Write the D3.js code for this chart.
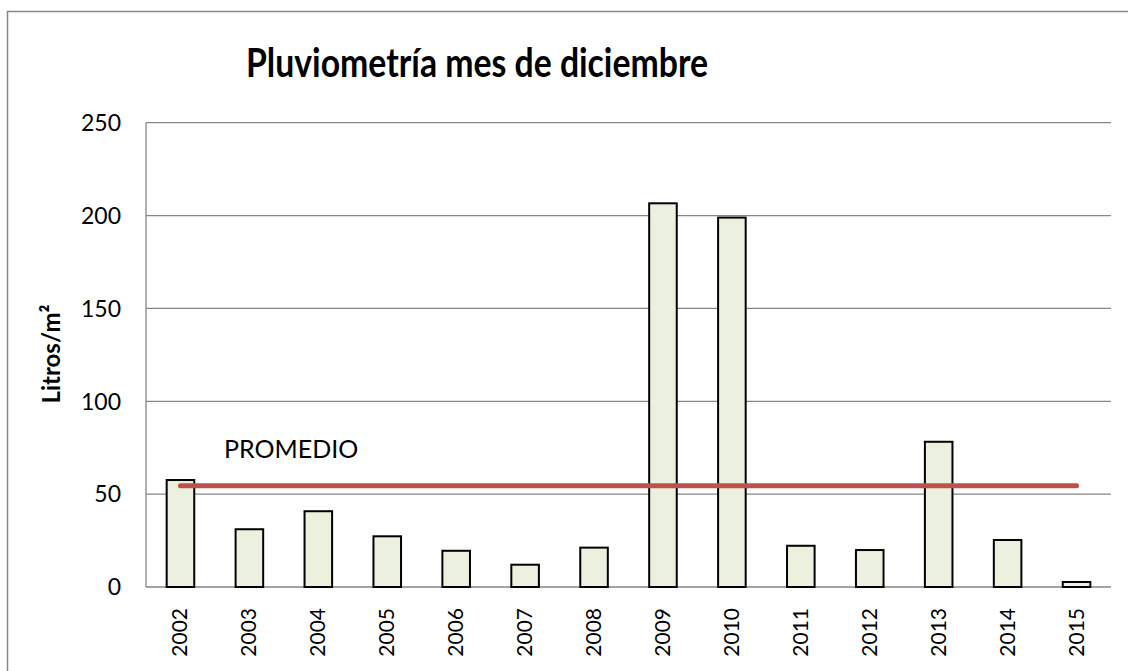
<!DOCTYPE html>
<html>
<head>
<meta charset="utf-8">
<script src="https://cdn.jsdelivr.net/npm/d3@7"></script>
<style>
  body { margin: 0; background: #fff; }
  svg { display: block; font-family: Lato, "Open Sans", sans-serif; }
</style>
</head>
<body>
<script>
var years = ["2002", "2003", "2004", "2005", "2006", "2007", "2008",
             "2009", "2010", "2011", "2012", "2013", "2014", "2015"];
var litros = [57.6, 31.1, 40.8, 27.3, 19.5, 12.0, 21.2,
              206.6, 198.9, 22.2, 19.9, 78.2, 25.3, 2.7];
var promedio = [54.5];
var yTicks = [0, 50, 100, 150, 200, 250];

var width = 1128,
    height = 671;

var svg = d3.select("body").append("svg")
    .attr("width", width)
    .attr("height", height);

// chart frame
svg.append("rect")
    .attr("x", 7.5).attr("y", 11.5)
    .attr("width", 1140).attr("height", 700)
    .attr("fill", "#fff")
    .attr("stroke", "#878787")
    .attr("stroke-width", 1.5);

var plotLeft = 146, plotRight = 1111, plotTop = 122.7, plotBottom = 587;

var x = d3.scaleBand()
    .domain(years)
    .range([plotLeft, plotRight])
    .paddingInner(0.6)
    .paddingOuter(0.3);

var y = d3.scaleLinear()
    .domain([0, 250])
    .range([plotBottom, plotTop]);

// gridlines
svg.append("g")
    .selectAll("line")
    .data(yTicks)
    .enter().append("line")
    .attr("x1", plotLeft).attr("x2", plotRight)
    .attr("y1", function (d) { return y(d); })
    .attr("y2", function (d) { return y(d); })
    .attr("stroke", "#868686")
    .attr("stroke-width", 1.3);

// left axis line
svg.append("line")
    .attr("x1", plotLeft).attr("x2", plotLeft)
    .attr("y1", plotTop).attr("y2", plotBottom)
    .attr("stroke", "#868686")
    .attr("stroke-width", 1.3);

// y tick labels
svg.append("g")
    .selectAll("text")
    .data(yTicks)
    .enter().append("text")
    .attr("x", 121)
    .attr("y", function (d) { return y(d); })
    .attr("dy", "0.36em")
    .attr("text-anchor", "end")
    .attr("font-size", 23)
    .attr("fill", "#000")
    .text(function (d) { return d; });

// bars
svg.append("g")
    .selectAll("rect")
    .data(litros)
    .enter().append("rect")
    .attr("x", function (d, i) { return x(years[i]); })
    .attr("y", function (d) { return y(d); })
    .attr("width", x.bandwidth())
    .attr("height", function (d) { return y(0) - y(d); })
    .attr("fill", "#EBF1DE")
    .attr("stroke", "#000")
    .attr("stroke-width", 2);

// average line
svg.append("line")
    .attr("x1", x(years[0]) + x.bandwidth() / 2)
    .attr("x2", x(years[years.length - 1]) + x.bandwidth() / 2)
    .attr("y1", y(promedio[0]))
    .attr("y2", y(promedio[0]))
    .attr("stroke", "#C0504D")
    .attr("stroke-width", 5)
    .attr("stroke-linecap", "round");

svg.append("text")
    .attr("x", 224)
    .attr("y", 457.5)
    .attr("font-size", 25)
    .attr("fill", "#000")
    .text("PROMEDIO");

// x labels, rotated
svg.append("g")
    .selectAll("text")
    .data(years)
    .enter().append("text")
    .attr("transform", function (d) {
      return "translate(" + (x(d) + x.bandwidth() / 2 + 7) + ",608) rotate(-90)";
    })
    .attr("text-anchor", "end")
    .attr("font-size", 21)
    .attr("fill", "#000")
    .text(function (d) { return d; });

// y axis title
svg.append("text")
    .attr("transform", "translate(60,354) rotate(-90)")
    .attr("text-anchor", "middle")
    .attr("font-size", 24)
    .attr("font-weight", "bold")
    .attr("fill", "#000")
    .text("Litros/m²");

// title
svg.append("text")
    .attr("x", 477)
    .attr("y", 77)
    .attr("text-anchor", "middle")
    .attr("font-size", 41)
    .attr("font-weight", "bold")
    .attr("textLength", 462)
    .attr("lengthAdjust", "spacingAndGlyphs")
    .attr("fill", "#000")
    .text("Pluviometría mes de diciembre");
</script>
</body>
</html>
